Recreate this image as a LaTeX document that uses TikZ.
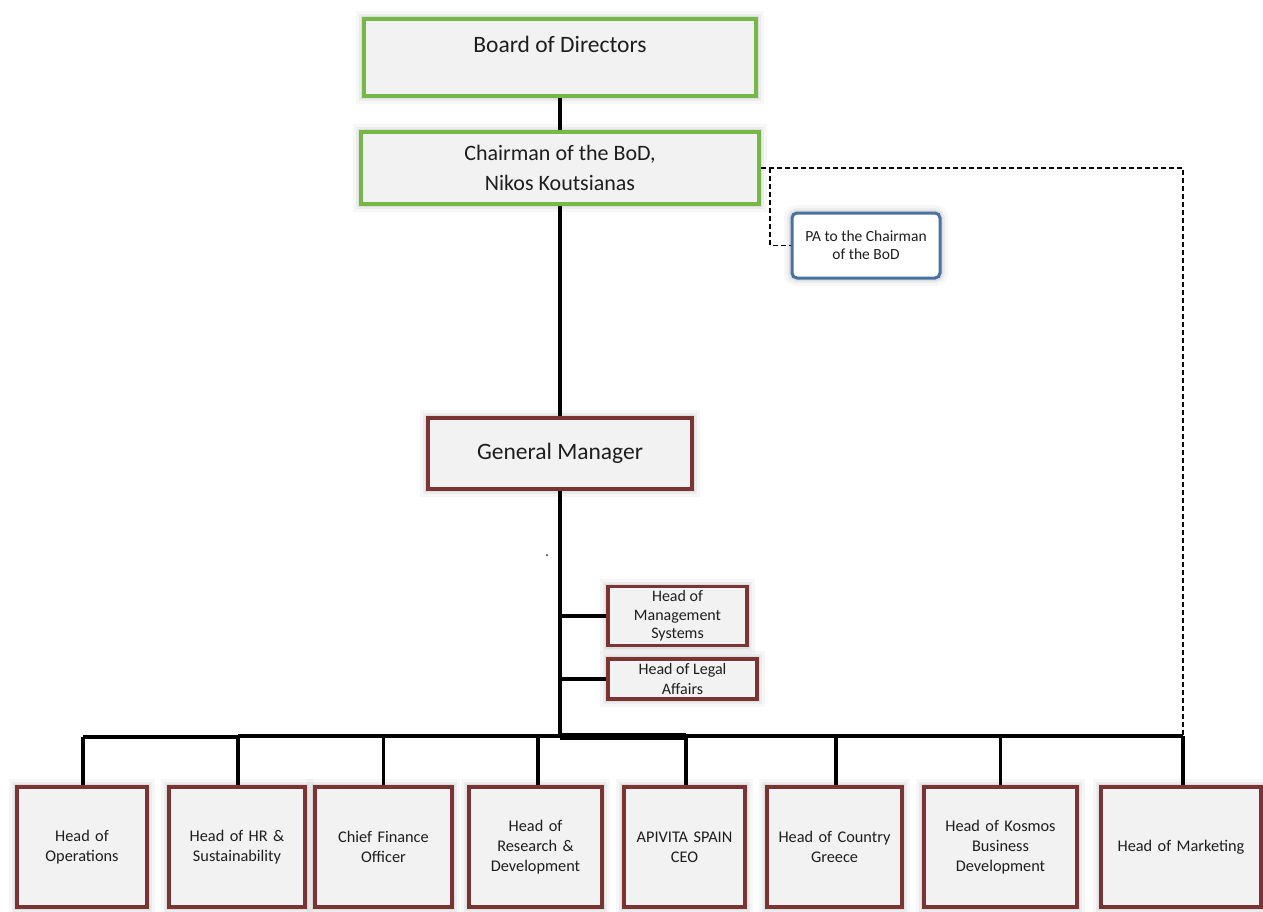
\documentclass[tikz,border=0pt]{standalone}
\usepackage{fontspec}
\setmainfont{Carlito}
\definecolor{boxfill}{RGB}{242,242,242}
\definecolor{greenedge}{RGB}{118,184,72}
\definecolor{rededge}{RGB}{122,52,52}
\definecolor{blueedge}{RGB}{72,114,162}
\definecolor{inktext}{RGB}{30,30,30}
\begin{document}
\begin{tikzpicture}[x=1pt,y=-1pt,
  halo/.style={
    preaction={draw=black,opacity=0.03,line width=16pt},
    preaction={draw=black,opacity=0.045,line width=10pt},
    preaction={draw=black,opacity=0.06,line width=6pt}},
  basebox/.style={rectangle,inner sep=2pt,align=center,text=inktext,fill=boxfill,halo},
  greenbox/.style={basebox,draw=greenedge,line width=3.5pt},
  redbox/.style={basebox,draw=rededge,line width=3.5pt},
  bluebox/.style={basebox,draw=blueedge,line width=3pt,fill=white,rounded corners=5pt},
  bigfont/.style={font=\fontsize{23.5}{30}\selectfont},
  chairfont/.style={font=\fontsize{22}{30}\selectfont},
  midfont/.style={font=\fontsize{16.3}{20}\selectfont},
  smallfont/.style={font=\fontsize{15.5}{18}\selectfont},
  bottombox/.style={redbox,midfont,minimum height=120pt,text width=#1-8pt,minimum width=#1},
  trunk/.style={line width=4.5pt},
  branch/.style={line width=3.5pt},
  dotted link/.style={dashed,dash pattern=on 5pt off 3pt,line width=1.1pt}
]
\useasboundingbox (0,0) rectangle (1263,911);

% top of the chart
\node[greenbox,minimum width=392pt,minimum height=77pt] (board) at (560,57.5) {};
\node[bigfont,text=inktext] (boardtext) at (560,44) {Board of Directors};
\node[greenbox,chairfont,minimum width=398pt,minimum height=72pt] (chair) at (560,168)
  {Chairman of the BoD,\\Nikos Koutsianas};
\node[bluebox,smallfont,minimum width=148pt,minimum height=65pt,inner sep=0pt] (pa) at (866,245.5)
  {PA to the Chairman\\of the BoD};
\node[redbox,bigfont,minimum width=264pt,minimum height=71pt] (gm) at (560,453.5) {General Manager};

% staff functions beside the trunk
\node[redbox,minimum width=139pt,minimum height=59pt,inner sep=0pt,
  font=\fontsize{16}{18.5}\selectfont] (mgmt) at (677.5,616) {Head of\\Management\\Systems};
\node[redbox,minimum width=149pt,minimum height=40pt,inner sep=0pt,
  font=\fontsize{16}{20}\selectfont] (legal) at (682.5,679) {Head of Legal\\Affairs};

% department heads
\node[bottombox=130pt] (ops) at (82,847) {Head of\\Operations};
\node[bottombox=136pt] (hr) at (237,847) {Head of HR \&\\Sustainability};
\node[bottombox=137pt] (cfo) at (383.5,847) {Chief Finance\\Officer};
\node[bottombox=133pt] (rnd) at (535.5,847) {Head of\\Research \&\\Development};
\node[bottombox=121pt] (spain) at (684.5,847) {APIVITA SPAIN\\CEO};
\node[bottombox=135pt] (greece) at (834.5,847) {Head of Country\\Greece};
\node[bottombox=153pt] (kosmos) at (1000.5,847) {Head of Kosmos\\Business\\Development};
\node[bottombox=160pt] (mkt) at (1181,847) {Head of Marketing};

% stray speck
\node[circle,fill=black!65,inner sep=0pt,minimum size=2.5pt] (speck) at (547,555) {};

% connector geometry
\coordinate (bus) at (560,736);
\coordinate (busL) at (83,737);
\coordinate (busM) at (238,736);
\coordinate (busR) at (1183,736);
\coordinate (dcorner) at (1183,168);
\coordinate (pabranch) at (770,168);

% solid reporting lines
\draw[trunk] (board.south) -- (chair.north);
\draw[trunk] (chair.south) -- (gm.north);
\draw[trunk] (gm.south) -- (bus);
\draw[branch] (gm.south |- mgmt.west) -- (mgmt.west);
\draw[branch] (gm.south |- legal.west) -- (legal.west);
\draw[branch] (busL) -- (busM |- busL);
\draw[branch] (busM) -- (busR);
\draw[line width=7pt] (bus) -- (686,736);
\draw[branch] (busL) -- (ops.north -| busL);
\draw[branch] (busM) -- (hr.north -| busM);
\draw[branch] (cfo.north |- bus) -- (cfo.north);
\draw[branch] (538,736) -- (rnd.north -| 538,0);
\draw[branch] (686,736) -- (spain.north -| 686,0);
\draw[branch] (836,736) -- (greece.north -| 836,0);
\draw[branch] (kosmos.north |- bus) -- (kosmos.north);
\draw[branch] (busR) -- (mkt.north -| busR);

% dotted lines of the chairman's office
\draw[dotted link] (chair.east) -- (dcorner) -- (busR);
\draw[dotted link] (pabranch) |- (pa.west);
\end{tikzpicture}
\end{document}
